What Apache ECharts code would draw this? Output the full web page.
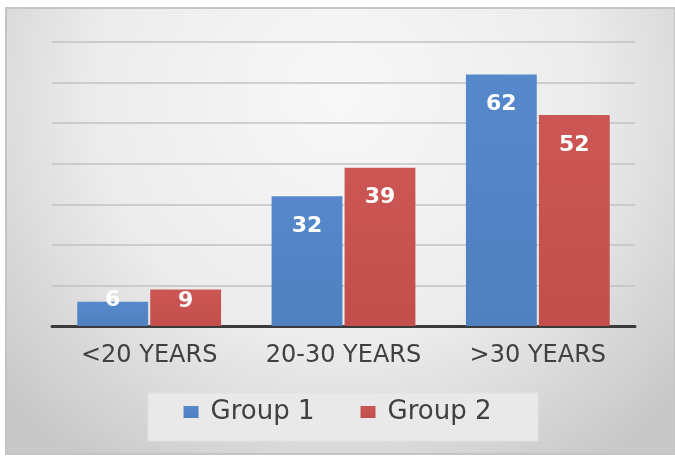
<!DOCTYPE html>
<html><head><meta charset="utf-8">
<script src="https://cdn.jsdelivr.net/npm/echarts@6/dist/echarts.min.js"></script>
<style>html,body{margin:0;padding:0;background:#fff}#c{width:675px;height:456px}</style>
</head><body><div id="c"></div>
<script>
const categories = ['<20 YEARS', '20-30 YEARS', '>30 YEARS'];
const group1 = [6, 32, 62];
const group2 = [9, 39, 52];
const seriesNames = ['Group 1', 'Group 2'];

const chart = echarts.init(document.getElementById('c'));
const FONT = 'DejaVu Sans';
function mk(vals) {
  return vals.map(v => {
    if (v < 8) return {value: v, label: {distance: -12}};
    if (v < 12) return {value: v, label: {distance: 1}};
    return v;
  });
}
const lbl = {show: true, position: 'insideTop', distance: 19, color: '#fff', fontFamily: FONT, fontWeight: 'bold', fontSize: 22};
chart.setOption({
  animation: false,
  graphic: [
    {type: 'rect', z: -10, shape: {x: 6, y: 8, width: 669, height: 446},
     style: {fill: {type: 'radial', x: 0.5, y: 0.2, r: 1.0, colorStops: [{offset: 0, color: '#f8f8f8'}, {offset: 0.55, color: '#ececec'}, {offset: 1, color: '#c8c8c8'}]},
       stroke: '#c4c4c4', lineWidth: 2}},
    {type: 'rect', z: -5, shape: {x: 148, y: 393, width: 390, height: 48},
     style: {fill: '#e9e9e9', stroke: '#e2e2e2', lineWidth: 1}}
  ],
  grid: {left: 52, right: 40, top: 42, bottom: 130},
  legend: {
    data: seriesNames, bottom: 26, left: 'center', itemWidth: 15, itemHeight: 12, itemGap: 46, icon: 'rect',
    textStyle: {fontFamily: FONT, fontSize: 26, color: '#404040', padding: [0, 0, 0, 7]}
  },
  xAxis: {
    type: 'category', data: categories,
    axisLine: {lineStyle: {color: '#3a3a3a', width: 3}},
    axisTick: {show: false},
    axisLabel: {interval: 0, fontFamily: FONT, fontSize: 24, color: '#404040', margin: 18}
  },
  yAxis: {
    type: 'value', min: 0, max: 70, interval: 10,
    axisLabel: {show: false}, axisLine: {show: false}, axisTick: {show: false},
    splitLine: {lineStyle: {color: '#c2c2c2', width: 1.5}}
  },
  series: [
    {name: seriesNames[0], type: 'bar', data: mk(group1), barGap: '3%', barCategoryGap: '26%',
     itemStyle: {color: {type: 'linear', x: 0, y: 0, x2: 0, y2: 1, colorStops: [{offset: 0, color: '#5689cc'}, {offset: 1, color: '#4f80c0'}]}},
     label: lbl},
    {name: seriesNames[1], type: 'bar', data: mk(group2),
     itemStyle: {color: {type: 'linear', x: 0, y: 0, x2: 0, y2: 1, colorStops: [{offset: 0, color: '#cc5654'}, {offset: 1, color: '#c24f4c'}]}},
     label: lbl}
  ]
});
</script></body></html>
